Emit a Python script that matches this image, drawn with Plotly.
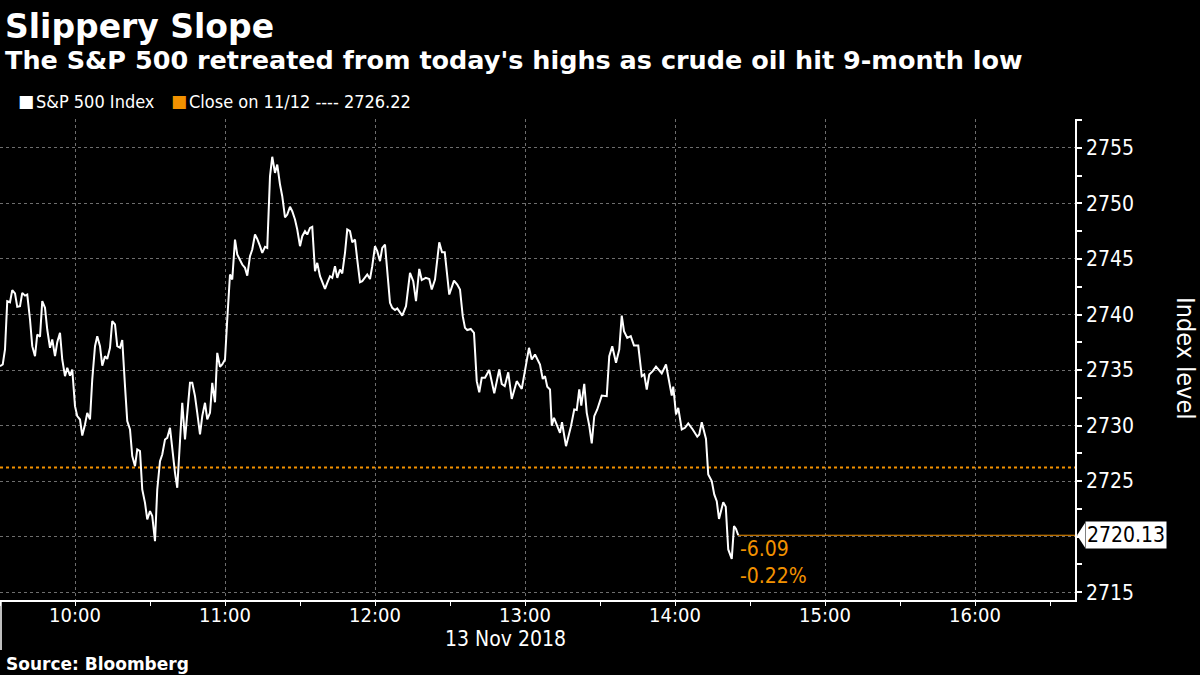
import pandas as pd
import plotly.graph_objects as go

# ---------------- data ----------------
session_date = "2018-11-13"
open_time = "09:30"
prev_close = 2726.22
prev_close_label = "11/12"
series_name = "S&P 500 Index"

minutes_after_open = [
    0, 1.1, 2, 2.9, 4, 4.9, 6, 6.9, 8, 8.9,
    10, 10.9, 12, 12.9, 14, 14.9, 16, 16.9, 18, 18.9,
    20, 20.9, 22, 22.9, 24, 24.9, 26, 26.9, 28, 28.9,
    30, 30.9, 32, 32.9, 34, 34.9, 36, 36.9, 38, 38.9,
    40, 40.9, 42, 42.9, 44, 44.9, 46, 46.9, 48, 48.9,
    50, 50.9, 52, 52.9, 54, 54.9, 56, 56.9, 58, 58.9,
    60, 60.9, 62, 62.9, 64, 64.9, 66, 66.9, 68, 68.9,
    70, 70.9, 72, 72.9, 74, 74.9, 76, 76.9, 78, 78.9,
    80, 80.9, 82, 82.9, 84, 84.9, 86, 86.9, 88, 88.9,
    90, 90.9, 92, 92.9, 94, 94.9, 96, 96.9, 98, 98.9,
    100, 100.9, 102, 102.9, 104, 104.9, 106, 106.9, 108, 108.9,
    110, 110.9, 112, 112.9, 114, 114.9, 116, 116.9, 118, 118.9,
    120, 120.9, 122, 122.9, 124, 124.9, 126, 126.9, 128, 128.9,
    130, 130.9, 132, 132.9, 134, 134.9, 136, 136.9, 138, 138.9,
    140, 140.9, 142, 142.9, 144, 144.9, 146, 146.9, 148, 148.9,
    150, 150.9, 152, 152.9, 154, 154.9, 156, 156.9, 158, 158.9,
    160.9, 162.4, 164, 165.3, 166.4, 167.7, 168.7, 170.3, 171.7, 172.7,
    174, 175.7, 176.8, 177.9, 178.7, 179.7, 181.6, 182.9, 184, 185.1,
    186, 186.9, 188.3, 189.6, 190.7, 191.7, 192.7, 194, 195.7, 197.7,
    199.7, 200.7, 201.9, 203.3, 204.7, 206.7, 208.7, 211.6, 212.7, 214,
    216, 217.1, 218, 218.9, 220, 220.7, 221.6, 222.9, 224, 224.8,
    226.4, 228.4, 229.7, 230.7, 231.7, 232.5, 233.7, 234.7, 235.7, 236.7,
    237.7, 238.9, 240.7, 242.7, 243.7, 244.9, 246.4, 247.7, 248.7, 249.6,
    250.9, 252.3, 253.6, 255.3, 256.7, 257.7, 258.7, 259.7, 261.1, 262.4,
    263.7, 264.7, 266.4, 267.7, 268.7, 269.3, 270.4, 271.3, 272.7, 274,
    275.3, 277.1, 278.9, 279.7, 280.7, 282.4, 283.3, 284.7, 285.7, 286.7,
    287.6, 289.3, 290.3, 291.3, 292.7, 293.6, 294.4, 295.3,
]

index_level = [
    2735.35, 2735.5, 2736.85, 2741.2, 2741.1, 2742.2, 2741.9, 2740.7, 2740.75, 2741.95,
    2741.7, 2741.8, 2739.55, 2737.15, 2736.25, 2738.2, 2738.0, 2741.2, 2740.6, 2738.65,
    2737.0, 2737.75, 2736.25, 2737.5, 2738.35, 2735.95, 2734.45, 2735.2, 2734.5, 2735.05,
    2731.75, 2730.85, 2730.55, 2729.1, 2730.1, 2731.15, 2730.55, 2734.15, 2737.15, 2738.05,
    2737.15, 2735.4, 2736.25, 2736.0, 2737.0, 2739.4, 2739.1, 2737.15, 2737.0, 2737.7,
    2733.55, 2730.4, 2729.65, 2727.25, 2726.35, 2727.85, 2727.7, 2724.25, 2723.05, 2721.55,
    2722.3, 2721.85, 2719.6, 2724.25, 2726.8, 2727.4, 2728.75, 2728.9, 2729.8, 2727.85,
    2725.75, 2724.4, 2729.35, 2732.05, 2728.75, 2731.15, 2733.85, 2733.85, 2732.65, 2731.15,
    2729.2, 2730.85, 2732.05, 2730.55, 2731.15, 2733.85, 2732.1, 2736.55, 2735.3, 2735.5,
    2735.95, 2739.55, 2743.6, 2743.15, 2746.75, 2745.4, 2744.95, 2744.5, 2744.2, 2743.5,
    2745.25, 2745.85, 2747.2, 2746.8, 2746.15, 2745.55, 2746.1, 2746.0, 2752.45, 2754.2,
    2752.75, 2753.5, 2751.7, 2750.65, 2748.75, 2749.0, 2749.7, 2749.3, 2748.55, 2747.65,
    2746.15, 2747.05, 2747.5, 2747.2, 2747.8, 2747.9, 2743.9, 2744.65, 2743.45, 2742.85,
    2742.3, 2742.85, 2743.45, 2743.3, 2744.35, 2743.3, 2744.05, 2743.7, 2745.55, 2747.65,
    2747.5, 2746.5, 2746.75, 2744.95, 2742.9, 2743.0, 2743.3, 2743.6, 2743.2, 2744.35,
    2746.15, 2745.7, 2744.8, 2746.0, 2746.3, 2743.75, 2741.05, 2740.6, 2740.4, 2740.55,
    2739.9, 2740.75, 2743.75, 2743.0, 2741.2, 2744.1, 2743.1, 2743.3, 2743.2, 2742.25,
    2743.15, 2746.5, 2745.6, 2745.6, 2743.75, 2741.8, 2743.05, 2742.7, 2742.25, 2739.85,
    2738.8, 2738.6, 2738.7, 2738.35, 2734.0, 2733.0, 2734.3, 2734.3, 2735.0, 2732.9,
    2735.05, 2733.75, 2733.55, 2734.8, 2732.4, 2734.0, 2733.3, 2737.0, 2735.95, 2736.4,
    2735.5, 2734.2, 2734.45, 2733.5, 2733.25, 2730.0, 2730.7, 2729.95, 2729.35, 2730.3,
    2728.15, 2729.95, 2731.45, 2731.4, 2733.25, 2731.8, 2733.75, 2731.15, 2730.0, 2728.4,
    2730.85, 2731.45, 2732.7, 2732.65, 2736.25, 2737.15, 2735.65, 2736.85, 2739.9, 2738.5,
    2737.9, 2738.05, 2737.2, 2737.2, 2734.45, 2734.6, 2733.25, 2734.6, 2734.9, 2735.3,
    2734.9, 2734.7, 2735.5, 2733.85, 2732.7, 2733.5, 2731.0, 2731.6, 2729.65, 2729.8,
    2730.2, 2729.65, 2729.0, 2729.2, 2730.3, 2728.8, 2725.6, 2725.0, 2723.8, 2723.2,
    2721.6, 2723.1, 2722.7, 2718.85, 2718.0, 2720.95, 2720.7, 2720.13,
]

y_ticks = [2715, 2720, 2725, 2730, 2735, 2740, 2745, 2750, 2755]
x_range = ["2018-11-13 09:30", "2018-11-13 16:40"]
y_range = [2714.3, 2757.6]

# ---------------- derived ----------------
start = pd.Timestamp(f"{session_date} {open_time}")
times = [start + pd.Timedelta(minutes=m) for m in minutes_after_open]
last_val = index_level[-1]
chg = last_val - prev_close
chg_pct = chg / prev_close * 100
# the tick label hidden behind the last-value box
y_ticktext = ["" if abs(v - last_val) < 2.5 else str(v) for v in y_ticks]

ORANGE = "#F39200"
GRID = "#6e6e6e"
FONT = "Liberation Sans Narrow, DejaVu Sans Condensed, Roboto, sans-serif"
BOLD = "DejaVu Sans, Verdana, sans-serif"

W, H = 1200, 675
L, R, T, B = 0, 125, 119, 75
plot_w = W - L - R
plot_h = H - T - B


def py(pix):
    return (H - B - pix) / plot_h


def px(pix):
    return (pix - L) / plot_w


fig = go.Figure()

# previous close dotted line
fig.add_trace(go.Scatter(
    x=x_range, y=[prev_close, prev_close], mode="lines",
    line=dict(color=ORANGE, width=2, dash="dot"), hoverinfo="skip", showlegend=False))

# last-value line to axis
fig.add_trace(go.Scatter(
    x=[times[-1], pd.Timestamp(x_range[1])], y=[last_val, last_val], mode="lines",
    line=dict(color=ORANGE, width=1.2), hoverinfo="skip", showlegend=False))

# main series
fig.add_trace(go.Scatter(
    x=times, y=index_level, mode="lines", name=series_name,
    line=dict(color="white", width=2), showlegend=False))

annotations = [
    dict(text="<b>Slippery Slope</b>", xref="paper", yref="paper", x=0, y=py(26),
         xanchor="left", yanchor="middle", xshift=3, showarrow=False,
         font=dict(family=BOLD, size=33, color="white")),
    dict(text="<b>The S&P 500 retreated from today's highs as crude oil hit 9-month low</b>",
         xref="paper", yref="paper", x=0, y=py(60), xanchor="left", yanchor="middle",
         xshift=3, showarrow=False, font=dict(family=BOLD, size=25.5, color="white")),
    # legend
    dict(text="■", xref="paper", yref="paper", x=px(16), y=py(101), xanchor="left",
         yanchor="middle", showarrow=False, font=dict(family="DejaVu Sans", size=17, color="white")),
    dict(text=series_name, xref="paper", yref="paper", x=px(34), y=py(101), xanchor="left",
         yanchor="middle", showarrow=False, font=dict(family=FONT, size=18, color="white")),
    dict(text="■", xref="paper", yref="paper", x=px(169), y=py(101), xanchor="left",
         yanchor="middle", showarrow=False, font=dict(family="DejaVu Sans", size=17, color=ORANGE)),
    dict(text=f"Close on {prev_close_label} ---- {prev_close:.2f}", xref="paper", yref="paper",
         x=px(187), y=py(101), xanchor="left", yanchor="middle", showarrow=False,
         font=dict(family=FONT, size=18, color="white")),
    dict(text="<b>Source: Bloomberg</b>", xref="paper", yref="paper", x=0, y=py(664),
         xanchor="left", yanchor="middle", xshift=4, showarrow=False,
         font=dict(family=BOLD, size=17, color="white")),
    dict(text="13 Nov 2018", xref="x", yref="paper", x="2018-11-13 12:52", y=py(639),
         xanchor="center", yanchor="middle", showarrow=False,
         font=dict(family=FONT, size=21, color="white")),
    dict(text="Index level", xref="paper", yref="paper", x=1, y=py(358),
         xanchor="center", yanchor="middle", xshift=111, textangle=90, showarrow=False,
         font=dict(family=FONT, size=25, color="white")),
    dict(text=f"{chg:.2f}<br>{chg_pct:.2f}%", xref="x", yref="y", x=times[-1], y=last_val,
         xanchor="left", yanchor="top", xshift=0, yshift=0, align="left", showarrow=False,
         font=dict(family=FONT, size=21, color=ORANGE)),
    dict(text=f"{last_val:.2f}", xref="paper", yref="y", x=1, y=last_val,
         xanchor="left", yanchor="middle", xshift=10, showarrow=False,
         bgcolor="white", borderpad=1,
         font=dict(family=FONT, size=21, color="black")),
]

fig.update_layout(
    width=W, height=H,
    paper_bgcolor="black", plot_bgcolor="black",
    margin=dict(l=L, r=R, t=T, b=B),
    showlegend=False,
    annotations=annotations,
    shapes=[
        dict(type="path", xref="paper", yref="y",
             path=f"M {px(1077)} {last_val} L {px(1085)} {last_val + 1.1} L {px(1085)} {last_val - 1.1} Z",
             fillcolor="white", line=dict(width=0)),
        dict(type="line", xref="paper", yref="paper", x0=px(1), x1=px(1), y0=0, y1=py(650),
             line=dict(color="white", width=1.5)),
    ],
    xaxis=dict(
        type="date", range=x_range, tick0="2018-11-13 10:00", dtick=3600000,
        tickformat="%H:%M", showgrid=True, gridcolor=GRID, griddash="dot", gridwidth=1,
        showline=True, linecolor="white", linewidth=1.5,
        ticks="outside", ticklen=4, tickcolor="white", ticklabelstandoff=-8,
        minor=dict(dtick=1800000, tick0="2018-11-13 09:30", ticks="outside", ticklen=4,
                   tickcolor="white", showgrid=False),
        tickfont=dict(family=FONT, size=20, color="white"),
        zeroline=False, fixedrange=True,
    ),
    yaxis=dict(
        side="right", range=y_range, tickvals=y_ticks, ticktext=y_ticktext,
        showgrid=True, gridcolor=GRID, griddash="dot", gridwidth=1,
        showline=True, linecolor="white", linewidth=1.5,
        ticks="outside", ticklen=5, tickcolor="white", tickwidth=2,
        minor=dict(dtick=2.5, tick0=2715, ticks="outside", ticklen=5, tickcolor="white",
                   showgrid=False),
        tickfont=dict(family=FONT, size=21, color="white"),
        zeroline=False, fixedrange=True,
    ),
)

fig.write_html("out.html")
